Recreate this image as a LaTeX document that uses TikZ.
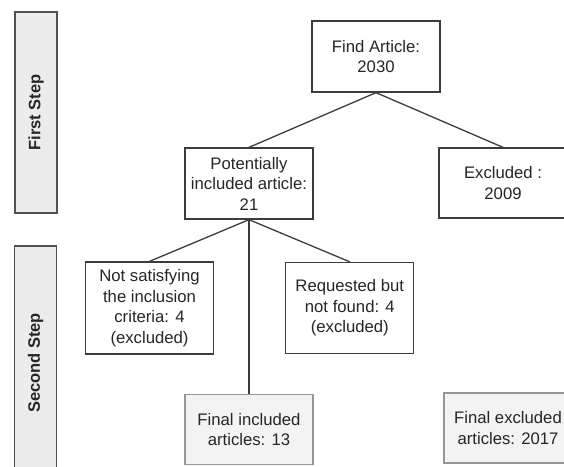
\documentclass[tikz,border=0pt]{standalone}
\usepackage{fontspec}
\setmainfont{Liberation Sans}
\usepackage{tikz}
\usetikzlibrary{positioning}
\definecolor{edgegray}{RGB}{60,60,60}
\definecolor{phasefill}{RGB}{236,236,236}
\definecolor{finalfill}{RGB}{243,243,243}
\definecolor{finalline}{RGB}{150,150,150}

\begin{document}
\begin{tikzpicture}[x=1pt, y=-1pt,
  box/.style={rectangle, draw=edgegray, line width=1.3pt, fill=white,
              minimum width=128pt, minimum height=71pt, align=center, inner sep=2pt,
              font=\fontsize{16.7}{20.5}\selectfont, text=black!85},
  finalbox/.style={box, draw=finalline, fill=finalfill, minimum height=70pt},
  phase/.style={rectangle, draw=edgegray!90, line width=1.3pt, fill=phasefill, rotate=90,
                minimum height=42pt, font=\fontsize{16.5}{20}\selectfont\bfseries, text=black!85},
  link/.style={draw=edgegray, line width=1.3pt}
]
\clip (0,0) rectangle (564,466);
\fill[white] (0,0) rectangle (564,466);

% steps
\node[phase, minimum width=201pt] (first)  at (36,112.5) {First Step};
\node[phase, minimum width=234pt] (second) at (35.5,363) {Second Step};

% first step
\node[box] (find) at (376,56.5) {Find Article:\\2030};
\node[box] (pot)  at (249,183.5) {Potentially\\included article:\\21};
\node[box, minimum height=70pt] (excl) at (503,183) {Excluded :\\2009};

% second step
\node[box, minimum height=92pt] (notsat) at (149.5,308) {Not satisfying\\the inclusion\\criteria: 4\\(excluded)};
\node[box, minimum height=91pt, right=71pt of notsat] (notfound) {Requested but\\not found: 4\\(excluded)};
\node[finalbox, below=174pt of pot] (finincl) {Final included\\articles: 13};
\node[finalbox] (finexcl) at (508,428) {Final excluded\\articles: 2017};

\draw[link] (find.south) -- (pot.north);
\draw[link] (find.south) -- (excl.north);
\draw[link] (pot.south) -- (notsat.north);
\draw[link] (pot.south) -- (notfound.north);
\draw[link] (pot.south) -- (finincl.north);
\end{tikzpicture}
\end{document}
